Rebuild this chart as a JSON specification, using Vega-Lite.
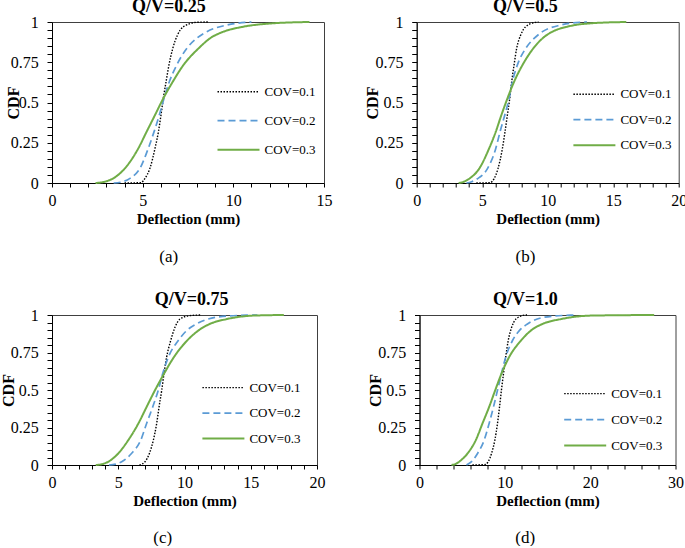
{
  "$schema": "https://vega.github.io/schema/vega-lite/v6.json",
  "background": "white",
  "padding": {"left": -1, "top": -3, "right": 0, "bottom": 0},
  "config": {
    "font": "Liberation Serif",
    "view": {"stroke": "#404040", "strokeWidth": 1},
    "axis": {"grid": false, "domainColor": "black", "tickColor": "black", "labelColor": "black", "titleColor": "black", "labelFont": "Liberation Serif", "titleFont": "Liberation Serif", "labelFontSize": 16, "titleFontSize": 16, "titleFontWeight": "bold", "labelFlush": false, "labelOverlap": false, "labelBound": false},
    "axisX": {"tickSize": 4, "labelPadding": 5, "titlePadding": 3, "titleFontSize": 15},
    "axisY": {"tickSize": 5},
    "title": {"font": "Liberation Serif", "fontSize": 18, "fontWeight": "bold", "color": "black", "frame": "bounds", "anchor": "middle", "offset": -2},
    "legend": {"title": null, "labelFont": "Liberation Serif", "labelFontSize": 13, "labelColor": "black", "symbolType": "M-1,0H5", "symbolSize": 196, "labelOffset": 32, "padding": 0}
  },
  "datasets": {
    "cdf": [
      {"p":"a","s":"COV=0.1","x":4.0,"y":0},{"p":"a","s":"COV=0.1","x":4.9,"y":0.002},{"p":"a","s":"COV=0.1","x":5.13,"y":0.029},{"p":"a","s":"COV=0.1","x":5.4,"y":0.091},{"p":"a","s":"COV=0.1","x":5.68,"y":0.215},{"p":"a","s":"COV=0.1","x":5.87,"y":0.319},{"p":"a","s":"COV=0.1","x":6.01,"y":0.422},{"p":"a","s":"COV=0.1","x":6.14,"y":0.526},{"p":"a","s":"COV=0.1","x":6.29,"y":0.629},{"p":"a","s":"COV=0.1","x":6.45,"y":0.733},{"p":"a","s":"COV=0.1","x":6.66,"y":0.836},{"p":"a","s":"COV=0.1","x":6.92,"y":0.919},{"p":"a","s":"COV=0.1","x":7.25,"y":0.971},{"p":"a","s":"COV=0.1","x":7.98,"y":0.998},{"p":"a","s":"COV=0.1","x":8.6,"y":1},
      {"p":"a","s":"COV=0.2","x":3.4,"y":0},{"p":"a","s":"COV=0.2","x":3.9,"y":0.008},{"p":"a","s":"COV=0.2","x":4.3,"y":0.029},{"p":"a","s":"COV=0.2","x":4.85,"y":0.091},{"p":"a","s":"COV=0.2","x":5.31,"y":0.215},{"p":"a","s":"COV=0.2","x":5.63,"y":0.319},{"p":"a","s":"COV=0.2","x":5.92,"y":0.422},{"p":"a","s":"COV=0.2","x":6.18,"y":0.526},{"p":"a","s":"COV=0.2","x":6.47,"y":0.629},{"p":"a","s":"COV=0.2","x":6.88,"y":0.733},{"p":"a","s":"COV=0.2","x":7.43,"y":0.836},{"p":"a","s":"COV=0.2","x":7.98,"y":0.899},{"p":"a","s":"COV=0.2","x":8.54,"y":0.94},{"p":"a","s":"COV=0.2","x":9.64,"y":0.981},{"p":"a","s":"COV=0.2","x":10.7,"y":0.998},{"p":"a","s":"COV=0.2","x":11,"y":1},
      {"p":"a","s":"COV=0.3","x":2.4,"y":0},{"p":"a","s":"COV=0.3","x":2.9,"y":0.008},{"p":"a","s":"COV=0.3","x":3.38,"y":0.029},{"p":"a","s":"COV=0.3","x":4.02,"y":0.091},{"p":"a","s":"COV=0.3","x":4.76,"y":0.215},{"p":"a","s":"COV=0.3","x":5.22,"y":0.319},{"p":"a","s":"COV=0.3","x":5.68,"y":0.422},{"p":"a","s":"COV=0.3","x":6.14,"y":0.526},{"p":"a","s":"COV=0.3","x":6.66,"y":0.629},{"p":"a","s":"COV=0.3","x":7.25,"y":0.733},{"p":"a","s":"COV=0.3","x":8.08,"y":0.836},{"p":"a","s":"COV=0.3","x":8.72,"y":0.899},{"p":"a","s":"COV=0.3","x":9.46,"y":0.94},{"p":"a","s":"COV=0.3","x":10.56,"y":0.971},{"p":"a","s":"COV=0.3","x":12.2,"y":0.992},{"p":"a","s":"COV=0.3","x":14.2,"y":1},
      {"p":"b","s":"COV=0.1","x":4.55,"y":0},{"p":"b","s":"COV=0.1","x":5.6,"y":0.002},{"p":"b","s":"COV=0.1","x":5.9,"y":0.026},{"p":"b","s":"COV=0.1","x":6.2,"y":0.088},{"p":"b","s":"COV=0.1","x":6.54,"y":0.213},{"p":"b","s":"COV=0.1","x":6.74,"y":0.317},{"p":"b","s":"COV=0.1","x":6.92,"y":0.421},{"p":"b","s":"COV=0.1","x":7.1,"y":0.524},{"p":"b","s":"COV=0.1","x":7.25,"y":0.628},{"p":"b","s":"COV=0.1","x":7.43,"y":0.732},{"p":"b","s":"COV=0.1","x":7.63,"y":0.836},{"p":"b","s":"COV=0.1","x":7.94,"y":0.919},{"p":"b","s":"COV=0.1","x":8.32,"y":0.971},{"p":"b","s":"COV=0.1","x":9.08,"y":0.998},{"p":"b","s":"COV=0.1","x":9.3,"y":1},
      {"p":"b","s":"COV=0.2","x":3.8,"y":0},{"p":"b","s":"COV=0.2","x":4.2,"y":0.008},{"p":"b","s":"COV=0.2","x":4.63,"y":0.026},{"p":"b","s":"COV=0.2","x":5.39,"y":0.088},{"p":"b","s":"COV=0.2","x":6.03,"y":0.213},{"p":"b","s":"COV=0.2","x":6.36,"y":0.317},{"p":"b","s":"COV=0.2","x":6.72,"y":0.421},{"p":"b","s":"COV=0.2","x":7.05,"y":0.524},{"p":"b","s":"COV=0.2","x":7.3,"y":0.628},{"p":"b","s":"COV=0.2","x":7.68,"y":0.732},{"p":"b","s":"COV=0.2","x":8.32,"y":0.836},{"p":"b","s":"COV=0.2","x":8.96,"y":0.898},{"p":"b","s":"COV=0.2","x":9.6,"y":0.94},{"p":"b","s":"COV=0.2","x":11.0,"y":0.981},{"p":"b","s":"COV=0.2","x":12.5,"y":0.998},{"p":"b","s":"COV=0.2","x":13,"y":1},
      {"p":"b","s":"COV=0.3","x":3.2,"y":0},{"p":"b","s":"COV=0.3","x":3.6,"y":0.008},{"p":"b","s":"COV=0.3","x":4.0,"y":0.026},{"p":"b","s":"COV=0.3","x":4.76,"y":0.088},{"p":"b","s":"COV=0.3","x":5.52,"y":0.213},{"p":"b","s":"COV=0.3","x":6.03,"y":0.317},{"p":"b","s":"COV=0.3","x":6.46,"y":0.421},{"p":"b","s":"COV=0.3","x":6.92,"y":0.524},{"p":"b","s":"COV=0.3","x":7.43,"y":0.628},{"p":"b","s":"COV=0.3","x":8.07,"y":0.732},{"p":"b","s":"COV=0.3","x":8.9,"y":0.836},{"p":"b","s":"COV=0.3","x":9.6,"y":0.898},{"p":"b","s":"COV=0.3","x":10.36,"y":0.94},{"p":"b","s":"COV=0.3","x":11.5,"y":0.971},{"p":"b","s":"COV=0.3","x":13.3,"y":0.992},{"p":"b","s":"COV=0.3","x":16,"y":1},
      {"p":"c","s":"COV=0.1","x":6.6,"y":0},{"p":"c","s":"COV=0.1","x":7.02,"y":0.022},{"p":"c","s":"COV=0.1","x":7.35,"y":0.077},{"p":"c","s":"COV=0.1","x":7.65,"y":0.166},{"p":"c","s":"COV=0.1","x":7.9,"y":0.277},{"p":"c","s":"COV=0.1","x":8.08,"y":0.387},{"p":"c","s":"COV=0.1","x":8.28,"y":0.498},{"p":"c","s":"COV=0.1","x":8.45,"y":0.608},{"p":"c","s":"COV=0.1","x":8.65,"y":0.719},{"p":"c","s":"COV=0.1","x":8.96,"y":0.83},{"p":"c","s":"COV=0.1","x":9.28,"y":0.918},{"p":"c","s":"COV=0.1","x":9.66,"y":0.973},{"p":"c","s":"COV=0.1","x":10.4,"y":0.996},{"p":"c","s":"COV=0.1","x":11.2,"y":1},
      {"p":"c","s":"COV=0.2","x":4.3,"y":0},{"p":"c","s":"COV=0.2","x":4.8,"y":0.006},{"p":"c","s":"COV=0.2","x":5.26,"y":0.022},{"p":"c","s":"COV=0.2","x":6.0,"y":0.077},{"p":"c","s":"COV=0.2","x":6.7,"y":0.166},{"p":"c","s":"COV=0.2","x":7.14,"y":0.277},{"p":"c","s":"COV=0.2","x":7.6,"y":0.387},{"p":"c","s":"COV=0.2","x":8.02,"y":0.498},{"p":"c","s":"COV=0.2","x":8.35,"y":0.608},{"p":"c","s":"COV=0.2","x":8.78,"y":0.719},{"p":"c","s":"COV=0.2","x":9.53,"y":0.83},{"p":"c","s":"COV=0.2","x":10.16,"y":0.896},{"p":"c","s":"COV=0.2","x":10.9,"y":0.94},{"p":"c","s":"COV=0.2","x":12.4,"y":0.985},{"p":"c","s":"COV=0.2","x":14.7,"y":0.999},{"p":"c","s":"COV=0.2","x":15.5,"y":1},
      {"p":"c","s":"COV=0.3","x":3.3,"y":0},{"p":"c","s":"COV=0.3","x":3.8,"y":0.006},{"p":"c","s":"COV=0.3","x":4.25,"y":0.022},{"p":"c","s":"COV=0.3","x":5.0,"y":0.077},{"p":"c","s":"COV=0.3","x":5.76,"y":0.166},{"p":"c","s":"COV=0.3","x":6.52,"y":0.277},{"p":"c","s":"COV=0.3","x":7.14,"y":0.387},{"p":"c","s":"COV=0.3","x":7.77,"y":0.498},{"p":"c","s":"COV=0.3","x":8.45,"y":0.608},{"p":"c","s":"COV=0.3","x":9.2,"y":0.719},{"p":"c","s":"COV=0.3","x":10.2,"y":0.83},{"p":"c","s":"COV=0.3","x":11.04,"y":0.896},{"p":"c","s":"COV=0.3","x":11.9,"y":0.94},{"p":"c","s":"COV=0.3","x":13.2,"y":0.973},{"p":"c","s":"COV=0.3","x":15.2,"y":0.996},{"p":"c","s":"COV=0.3","x":17.5,"y":1},
      {"p":"d","s":"COV=0.1","x":6.2,"y":0},{"p":"d","s":"COV=0.1","x":7.7,"y":0.003},{"p":"d","s":"COV=0.1","x":8.05,"y":0.022},{"p":"d","s":"COV=0.1","x":8.44,"y":0.077},{"p":"d","s":"COV=0.1","x":8.83,"y":0.166},{"p":"d","s":"COV=0.1","x":9.14,"y":0.277},{"p":"d","s":"COV=0.1","x":9.38,"y":0.387},{"p":"d","s":"COV=0.1","x":9.6,"y":0.498},{"p":"d","s":"COV=0.1","x":9.84,"y":0.608},{"p":"d","s":"COV=0.1","x":10.1,"y":0.719},{"p":"d","s":"COV=0.1","x":10.4,"y":0.83},{"p":"d","s":"COV=0.1","x":10.8,"y":0.918},{"p":"d","s":"COV=0.1","x":11.3,"y":0.973},{"p":"d","s":"COV=0.1","x":12.3,"y":0.999},{"p":"d","s":"COV=0.1","x":12.6,"y":1},
      {"p":"d","s":"COV=0.2","x":5.5,"y":0},{"p":"d","s":"COV=0.2","x":6.1,"y":0.022},{"p":"d","s":"COV=0.2","x":6.8,"y":0.077},{"p":"d","s":"COV=0.2","x":7.58,"y":0.166},{"p":"d","s":"COV=0.2","x":8.16,"y":0.277},{"p":"d","s":"COV=0.2","x":8.67,"y":0.387},{"p":"d","s":"COV=0.2","x":9.14,"y":0.498},{"p":"d","s":"COV=0.2","x":9.6,"y":0.608},{"p":"d","s":"COV=0.2","x":10.1,"y":0.719},{"p":"d","s":"COV=0.2","x":10.9,"y":0.83},{"p":"d","s":"COV=0.2","x":11.7,"y":0.896},{"p":"d","s":"COV=0.2","x":12.65,"y":0.94},{"p":"d","s":"COV=0.2","x":14.6,"y":0.985},{"p":"d","s":"COV=0.2","x":17.7,"y":0.999},{"p":"d","s":"COV=0.2","x":18.5,"y":1},
      {"p":"d","s":"COV=0.3","x":3.75,"y":0},{"p":"d","s":"COV=0.3","x":4.2,"y":0.006},{"p":"d","s":"COV=0.3","x":4.65,"y":0.022},{"p":"d","s":"COV=0.3","x":5.63,"y":0.077},{"p":"d","s":"COV=0.3","x":6.6,"y":0.166},{"p":"d","s":"COV=0.3","x":7.38,"y":0.277},{"p":"d","s":"COV=0.3","x":8.16,"y":0.387},{"p":"d","s":"COV=0.3","x":8.87,"y":0.498},{"p":"d","s":"COV=0.3","x":9.6,"y":0.608},{"p":"d","s":"COV=0.3","x":10.5,"y":0.719},{"p":"d","s":"COV=0.3","x":11.9,"y":0.83},{"p":"d","s":"COV=0.3","x":13.05,"y":0.896},{"p":"d","s":"COV=0.3","x":14.4,"y":0.94},{"p":"d","s":"COV=0.3","x":16.6,"y":0.973},{"p":"d","s":"COV=0.3","x":20.1,"y":0.996},{"p":"d","s":"COV=0.3","x":27.5,"y":1}
    ]
  },
  "resolve": {"scale": {"color": "independent", "strokeDash": "independent", "strokeWidth": "independent", "x": "independent", "y": "independent"}},
  "spacing": 25,
  "vconcat": [
    {
      "spacing": 30.7,
      "resolve": {"scale": {"color": "independent", "strokeDash": "independent", "strokeWidth": "independent", "x": "independent", "y": "independent"}},
      "hconcat": [
        {
          "title": {"text": "(a)", "orient": "bottom", "fontWeight": "normal", "fontSize": 17, "offset": 22},
          "resolve": {"scale": {"color": "independent", "strokeDash": "independent", "strokeWidth": "independent"}},
          "vconcat": [
            {
              "title": {"text": "Q/V=0.25"},
              "width": 272, "height": 161,
              "data": {"name": "cdf"},
              "transform": [{"filter": "datum.p == 'a'"}],
              "mark": {"type": "line", "interpolate": "monotone"},
              "encoding": {
                "x": {"field": "x", "type": "quantitative", "scale": {"domain": [0, 15], "nice": false}, "axis": {"title": "Deflection (mm)", "values": [0,1,2,3,4,5,6,7,8,9,10,11,12,13,14,15], "labelExpr": "datum.value % 5 == 0 ? format(datum.value, '~g') : ''"}},
                "y": {"field": "y", "type": "quantitative", "scale": {"domain": [0, 1], "nice": false}, "axis": {"title": "CDF", "titlePadding": -11.3, "labelPadding": 8.8, "values": [0,0.05,0.1,0.15,0.2,0.25,0.3,0.35,0.4,0.45,0.5,0.55,0.6,0.65,0.7,0.75,0.8,0.85,0.9,0.95,1], "labelExpr": "round(datum.value*100) % 25 == 0 ? format(datum.value, '~g') : ''"}},
                "color": {"field": "s", "type": "nominal", "scale": {"domain": ["COV=0.1","COV=0.2","COV=0.3"], "range": ["#000000","#5B9BD5","#70AD47"]}, "legend": {"orient": "none", "legendX": 164.5, "legendY": 61.7, "rowPadding": 14}},
                "strokeDash": {"field": "s", "type": "nominal", "scale": {"domain": ["COV=0.1","COV=0.2","COV=0.3"], "range": [[1.5,1.5],[7,4],[1,0]]}, "legend": {"orient": "none", "legendX": 164.5, "legendY": 61.7, "rowPadding": 14}},
                "strokeWidth": {"field": "s", "type": "nominal", "scale": {"domain": ["COV=0.1","COV=0.2","COV=0.3"], "range": [1.4, 2, 2]}, "legend": {"orient": "none", "legendX": 164.5, "legendY": 61.7, "rowPadding": 14}}
              }
            }
          ]
        },
        {
          "title": {"text": "(b)", "orient": "bottom", "fontWeight": "normal", "fontSize": 17, "offset": 22},
          "resolve": {"scale": {"color": "independent", "strokeDash": "independent", "strokeWidth": "independent"}},
          "vconcat": [
            {
              "title": {"text": "Q/V=0.5"},
              "width": 262, "height": 161,
              "data": {"name": "cdf"},
              "transform": [{"filter": "datum.p == 'b'"}],
              "mark": {"type": "line", "interpolate": "monotone"},
              "encoding": {
                "x": {"field": "x", "type": "quantitative", "scale": {"domain": [0, 20], "nice": false}, "axis": {"title": "Deflection (mm)", "values": [0,1,2,3,4,5,6,7,8,9,10,11,12,13,14,15,16,17,18,19,20], "labelExpr": "datum.value % 5 == 0 ? format(datum.value, '~g') : ''"}},
                "y": {"field": "y", "type": "quantitative", "scale": {"domain": [0, 1], "nice": false}, "axis": {"title": "CDF", "titlePadding": -5.3, "labelPadding": 8.8, "values": [0,0.05,0.1,0.15,0.2,0.25,0.3,0.35,0.4,0.45,0.5,0.55,0.6,0.65,0.7,0.75,0.8,0.85,0.9,0.95,1], "labelExpr": "round(datum.value*100) % 25 == 0 ? format(datum.value, '~g') : ''"}},
                "color": {"field": "s", "type": "nominal", "scale": {"domain": ["COV=0.1","COV=0.2","COV=0.3"], "range": ["#000000","#5B9BD5","#70AD47"]}, "legend": {"orient": "none", "legendX": 155.7, "legendY": 64.2, "rowPadding": 10.5}},
                "strokeDash": {"field": "s", "type": "nominal", "scale": {"domain": ["COV=0.1","COV=0.2","COV=0.3"], "range": [[1.5,1.5],[7,4],[1,0]]}, "legend": {"orient": "none", "legendX": 155.7, "legendY": 64.2, "rowPadding": 10.5}},
                "strokeWidth": {"field": "s", "type": "nominal", "scale": {"domain": ["COV=0.1","COV=0.2","COV=0.3"], "range": [1.4, 2, 2]}, "legend": {"orient": "none", "legendX": 155.7, "legendY": 64.2, "rowPadding": 10.5}}
              }
            }
          ]
        }
      ]
    },
    {
      "spacing": 40.5,
      "resolve": {"scale": {"color": "independent", "strokeDash": "independent", "strokeWidth": "independent", "x": "independent", "y": "independent"}},
      "hconcat": [
        {
          "title": {"text": "(c)", "orient": "bottom", "fontWeight": "normal", "fontSize": 17, "offset": 21},
          "resolve": {"scale": {"color": "independent", "strokeDash": "independent", "strokeWidth": "independent"}},
          "vconcat": [
            {
              "title": {"text": "Q/V=0.75", "dx": 29},
              "width": 265, "height": 150,
              "data": {"name": "cdf"},
              "transform": [{"filter": "datum.p == 'c'"}],
              "mark": {"type": "line", "interpolate": "monotone"},
              "encoding": {
                "x": {"field": "x", "type": "quantitative", "scale": {"domain": [0, 20], "nice": false}, "axis": {"title": "Deflection (mm)", "values": [0,1,2,3,4,5,6,7,8,9,10,11,12,13,14,15,16,17,18,19,20], "labelExpr": "datum.value % 5 == 0 ? format(datum.value, '~g') : ''"}},
                "y": {"field": "y", "type": "quantitative", "scale": {"domain": [0, 1], "nice": false}, "axis": {"title": "CDF", "titlePadding": -6.2, "labelPadding": 8.8, "values": [0,0.05,0.1,0.15,0.2,0.25,0.3,0.35,0.4,0.45,0.5,0.55,0.6,0.65,0.7,0.75,0.8,0.85,0.9,0.95,1], "labelExpr": "round(datum.value*100) % 25 == 0 ? format(datum.value, '~g') : ''"}},
                "color": {"field": "s", "type": "nominal", "scale": {"domain": ["COV=0.1","COV=0.2","COV=0.3"], "range": ["#000000","#5B9BD5","#70AD47"]}, "legend": {"orient": "none", "legendX": 149.4, "legendY": 64.6, "rowPadding": 10.5}},
                "strokeDash": {"field": "s", "type": "nominal", "scale": {"domain": ["COV=0.1","COV=0.2","COV=0.3"], "range": [[1.5,1.5],[7,4],[1,0]]}, "legend": {"orient": "none", "legendX": 149.4, "legendY": 64.6, "rowPadding": 10.5}},
                "strokeWidth": {"field": "s", "type": "nominal", "scale": {"domain": ["COV=0.1","COV=0.2","COV=0.3"], "range": [1.4, 2, 2]}, "legend": {"orient": "none", "legendX": 149.4, "legendY": 64.6, "rowPadding": 10.5}}
              }
            }
          ]
        },
        {
          "title": {"text": "(d)", "orient": "bottom", "fontWeight": "normal", "fontSize": 17, "offset": 21},
          "resolve": {"scale": {"color": "independent", "strokeDash": "independent", "strokeWidth": "independent"}},
          "vconcat": [
            {
              "title": {"text": "Q/V=1.0"},
              "width": 256, "height": 150,
              "data": {"name": "cdf"},
              "transform": [{"filter": "datum.p == 'd'"}],
              "mark": {"type": "line", "interpolate": "monotone"},
              "encoding": {
                "x": {"field": "x", "type": "quantitative", "scale": {"domain": [0, 30], "nice": false}, "axis": {"title": "Deflection (mm)", "values": [0,2,4,6,8,10,12,14,16,18,20,22,24,26,28,30], "labelExpr": "datum.value % 10 == 0 ? format(datum.value, '~g') : ''"}},
                "y": {"field": "y", "type": "quantitative", "scale": {"domain": [0, 1], "nice": false}, "axis": {"title": "CDF", "titlePadding": -5.3, "labelPadding": 8.8, "values": [0,0.05,0.1,0.15,0.2,0.25,0.3,0.35,0.4,0.45,0.5,0.55,0.6,0.65,0.7,0.75,0.8,0.85,0.9,0.95,1], "labelExpr": "round(datum.value*100) % 25 == 0 ? format(datum.value, '~g') : ''"}},
                "color": {"field": "s", "type": "nominal", "scale": {"domain": ["COV=0.1","COV=0.2","COV=0.3"], "range": ["#000000","#5B9BD5","#70AD47"]}, "legend": {"orient": "none", "legendX": 143.7, "legendY": 70.6, "rowPadding": 11}},
                "strokeDash": {"field": "s", "type": "nominal", "scale": {"domain": ["COV=0.1","COV=0.2","COV=0.3"], "range": [[1.5,1.5],[7,4],[1,0]]}, "legend": {"orient": "none", "legendX": 143.7, "legendY": 70.6, "rowPadding": 11}},
                "strokeWidth": {"field": "s", "type": "nominal", "scale": {"domain": ["COV=0.1","COV=0.2","COV=0.3"], "range": [1.4, 2, 2]}, "legend": {"orient": "none", "legendX": 143.7, "legendY": 70.6, "rowPadding": 11}}
              }
            }
          ]
        }
      ]
    }
  ]
}
